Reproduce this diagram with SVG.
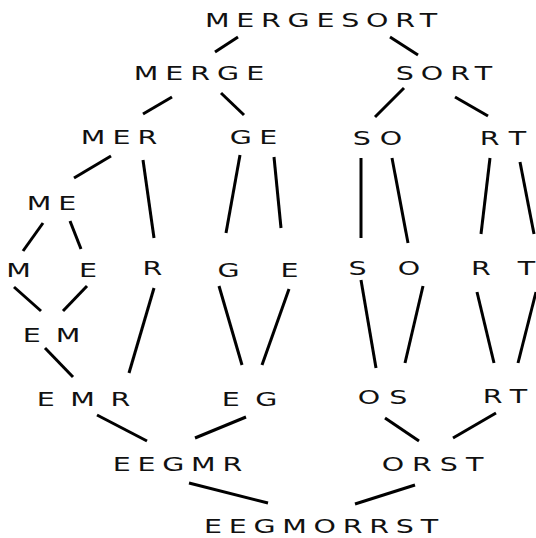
<svg xmlns="http://www.w3.org/2000/svg" width="536" height="538" viewBox="0 0 536 538">
<style>
.t{font-family:"DejaVu Sans",sans-serif;font-size:19px;fill:#111;text-anchor:middle}
.c line{stroke:#000;stroke-width:3;stroke-linecap:butt}
</style>
<rect width="536" height="538" fill="#fff"/>
<g class="c" id="connectors">
<line x1="238" y1="37" x2="215" y2="52"/>
<line x1="390" y1="37" x2="418" y2="55"/>
<line x1="172" y1="97" x2="143" y2="114"/>
<line x1="221" y1="93" x2="244" y2="115"/>
<line x1="404" y1="88" x2="375" y2="117"/>
<line x1="455" y1="97" x2="488" y2="116"/>
<line x1="111" y1="156" x2="74" y2="178"/>
<line x1="143" y1="160" x2="154" y2="238"/>
<line x1="240" y1="155" x2="226" y2="233"/>
<line x1="274" y1="157" x2="281" y2="228"/>
<line x1="361" y1="158" x2="361" y2="238"/>
<line x1="392" y1="158" x2="408" y2="243"/>
<line x1="490" y1="158" x2="481" y2="234"/>
<line x1="520" y1="162" x2="534" y2="234"/>
<line x1="43" y1="223" x2="23" y2="251"/>
<line x1="70" y1="221" x2="81" y2="249"/>
<line x1="14" y1="287" x2="41" y2="311"/>
<line x1="87" y1="286" x2="63" y2="311"/>
<line x1="154" y1="288" x2="129" y2="373"/>
<line x1="219" y1="286" x2="242" y2="365"/>
<line x1="289" y1="289" x2="262" y2="365"/>
<line x1="361" y1="280" x2="376" y2="368"/>
<line x1="423" y1="286" x2="405" y2="363"/>
<line x1="477" y1="292" x2="494" y2="363"/>
<line x1="536" y1="292" x2="518" y2="363"/>
<line x1="45" y1="348" x2="73" y2="377"/>
<line x1="97" y1="415" x2="147" y2="441"/>
<line x1="246" y1="417" x2="195" y2="438"/>
<line x1="385" y1="418" x2="419" y2="441"/>
<line x1="496" y1="413" x2="453" y2="438"/>
<line x1="189" y1="483" x2="268" y2="503"/>
<line x1="415" y1="485" x2="355" y2="504"/>
</g>
<g id="n-mergesort"><text class="t" transform="translate(321,27) scale(1.5,1)" x="2.25" letter-spacing="4.5">MERGESORT</text></g>
<g id="n-merge"><text class="t" transform="translate(199,80) scale(1.5,1)" x="2.3" letter-spacing="4.67">MERGE</text></g>
<g id="n-sort"><text class="t" transform="translate(444,80) scale(1.5,1)" x="2.3" letter-spacing="4.6">SORT</text></g>
<g id="n-mer"><text class="t" transform="translate(119,144) scale(1.5,1)" x="2.35" letter-spacing="4.7">MER</text></g>
<g id="n-ge"><text class="t" transform="translate(253.5,144) scale(1.5,1)" x="2.45" letter-spacing="4.9">GE</text></g>
<g id="n-so"><text class="t" transform="translate(377.5,145) scale(1.5,1)" x="3" letter-spacing="6">SO</text></g>
<g id="n-rt1"><text class="t" transform="translate(503,145) scale(1.5,1)" x="3.75" letter-spacing="7.5">RT</text></g>
<g id="n-me"><text class="t" transform="translate(51.5,210) scale(1.5,1)" x="2.3" letter-spacing="4.6">ME</text></g>
<g id="n-m"><text class="t" transform="translate(18.5,277) scale(1.5,1)">M</text></g>
<g id="n-e1"><text class="t" transform="translate(88,277) scale(1.5,1)">E</text></g>
<g id="n-r1"><text class="t" transform="translate(152.5,275) scale(1.5,1)">R</text></g>
<g id="n-g"><text class="t" transform="translate(228.5,277) scale(1.5,1)">G</text></g>
<g id="n-e2"><text class="t" transform="translate(289.5,277) scale(1.5,1)">E</text></g>
<g id="n-s"><text class="t" transform="translate(357.5,275) scale(1.5,1)">S</text></g>
<g id="n-o"><text class="t" transform="translate(409,275) scale(1.5,1)">O</text></g>
<g id="n-r2"><text class="t" transform="translate(481,275) scale(1.5,1)">R</text></g>
<g id="n-t"><text class="t" transform="translate(526.5,275) scale(1.5,1)">T</text></g>
<g id="n-em"><text class="t" transform="translate(51.5,342) scale(1.5,1)" x="4.95" letter-spacing="9.9">EM</text></g>
<g id="n-emr"><text class="t" transform="translate(83.5,406) scale(1.5,1)" x="5.2" letter-spacing="10.4">EMR</text></g>
<g id="n-eg"><text class="t" transform="translate(249.5,406) scale(1.5,1)" x="5.15" letter-spacing="10.3">EG</text></g>
<g id="n-os"><text class="t" transform="translate(382.5,404) scale(1.5,1)" x="3" letter-spacing="6">OS</text></g>
<g id="n-rt2"><text class="t" transform="translate(505,403) scale(1.5,1)" x="3.1" letter-spacing="6.2">RT</text></g>
<g id="n-eegmr"><text class="t" transform="translate(177.5,471) scale(1.5,1)" x="2.25" letter-spacing="4.5">EEGMR</text></g>
<g id="n-orst"><text class="t" transform="translate(432.5,471) scale(1.5,1)" x="2.65" letter-spacing="5.3">ORST</text></g>
<g id="n-eegmorrst"><text class="t" transform="translate(321,533) scale(1.5,1)" x="2.25" letter-spacing="4.5">EEGMORRST</text></g>
</svg>
